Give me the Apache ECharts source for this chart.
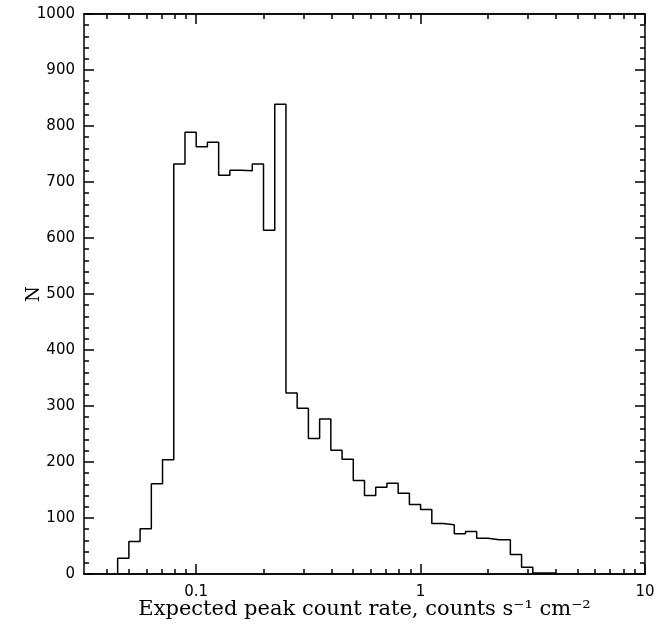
<!DOCTYPE html>
<html>
<head>
<meta charset="utf-8">
<script src="https://cdn.jsdelivr.net/npm/echarts@6/dist/echarts.min.js"></script>
<style>
  html, body { margin: 0; padding: 0; background: #fff; }
  #chart { width: 670px; height: 627px; }
</style>
</head>
<body>
<div id="chart"></div>
<script>
// bin edges (counts s^-1 cm^-2), 0.05 dex wide
var binEdges = [
  0.04467, 0.05012, 0.05623, 0.06310, 0.07079, 0.07943, 0.08913, 0.1,
  0.1122, 0.1259, 0.1413, 0.1585, 0.1778, 0.1995, 0.2239, 0.2512,
  0.2818, 0.3162, 0.3548, 0.3981, 0.4467, 0.5012, 0.5623, 0.6310,
  0.7079, 0.7943, 0.8913, 1.0, 1.122, 1.259, 1.413, 1.585,
  1.778, 1.995, 2.239, 2.512, 2.818, 3.162, 3.548, 3.981
];
// number of sources per bin
var counts = [
  28, 58, 81, 161, 204, 732, 789, 763, 771, 712,
  721, 720, 732, 614, 839, 323, 296, 242, 277, 221,
  205, 167, 140, 155, 162, 144, 124, 115, 90, 88,
  72, 76, 64, 61, 61, 35, 12, 2, 2
];
var xLabelTicks = [0.1, 1, 10];
var xMinorTicks = [
  0.04, 0.05, 0.06, 0.07, 0.08, 0.09,
  0.2, 0.3, 0.4, 0.5, 0.6, 0.7, 0.8, 0.9,
  2, 3, 4, 5, 6, 7, 8, 9
];
var xMin = 0.031623, xMax = 10;

// histogram outline as a stepped line
var outline = [[binEdges[0], 0]];
for (var i = 0; i < counts.length; i++) {
  outline.push([binEdges[i], counts[i]]);
}
outline.push([binEdges[binEdges.length - 1], 0]);

var chart = echarts.init(document.getElementById('chart'), null, { renderer: 'canvas' });

var lineStyle = { color: '#000', width: 1.5 };
var tickFont = { fontFamily: 'DejaVu Sans', fontSize: 15, color: '#000' };
var gridBox = { left: 84, right: 25, top: 14, bottom: 53, containLabel: false, outerBoundsMode: 'none' };

function logAxis(gridIndex, position, ticks, len, extra) {
  var ax = {
    type: 'log', logBase: 10, gridIndex: gridIndex, position: position,
    min: xMin, max: xMax,
    axisLine: { show: true, onZero: false, lineStyle: lineStyle },
    axisTick: { show: true, inside: true, length: len, customValues: ticks, lineStyle: lineStyle },
    axisLabel: { show: false },
    splitLine: { show: false },
    minorTick: { show: false }
  };
  for (var k in extra) ax[k] = extra[k];
  return ax;
}

function linAxis(gridIndex, position, showLabels, showAll) {
  return {
    type: 'value', gridIndex: gridIndex, position: position,
    min: 0, max: 1000, interval: 100,
    show: showAll,
    axisLine: { show: true, onZero: false, lineStyle: lineStyle },
    axisTick: { show: true, inside: true, length: 10, lineStyle: lineStyle },
    minorTick: { show: true, splitNumber: 5, length: 5, lineStyle: lineStyle },
    axisLabel: showLabels ? Object.assign({
      margin: 9, formatter: function (v) { return String(v); }
    }, tickFont) : { show: false },
    splitLine: { show: false }
  };
}

var option = {
  backgroundColor: '#FFFFFF',
  animation: false,
  grid: [
    Object.assign({}, gridBox),
    Object.assign({}, gridBox)
  ],
  xAxis: [
    logAxis(0, 'bottom', xLabelTicks, 10, {
      name: 'Expected peak count rate, counts s\u207B\u00B9 cm\u207B\u00B2',
      nameLocation: 'middle',
      nameGap: 25,
      nameMoveOverlap: false,
      nameTextStyle: { fontFamily: 'DejaVu Serif', fontSize: 21, color: '#000' },
      axisLabel: Object.assign({
        show: true, margin: 11, customValues: xLabelTicks,
        formatter: function (v) { return String(v); }
      }, tickFont)
    }),
    logAxis(0, 'top', xLabelTicks, 10, {}),
    logAxis(1, 'bottom', xMinorTicks, 5, {}),
    logAxis(1, 'top', xMinorTicks, 5, {})
  ],
  yAxis: [
    Object.assign(linAxis(0, 'left', true, true), {
      name: 'N',
      nameLocation: 'middle',
      nameGap: 41,
      nameRotate: 90,
      nameMoveOverlap: false,
      nameTextStyle: { fontFamily: 'DejaVu Serif', fontSize: 18, color: '#000' }
    }),
    linAxis(0, 'right', false, true),
    linAxis(1, 'left', false, false)
  ],
  series: [
    {
      type: 'line',
      xAxisIndex: 0,
      yAxisIndex: 0,
      step: 'end',
      data: outline,
      showSymbol: false,
      lineStyle: { color: '#000', width: 1.5 },
      z: 5
    }
  ]
};

chart.setOption(option);
</script>
</body>
</html>
